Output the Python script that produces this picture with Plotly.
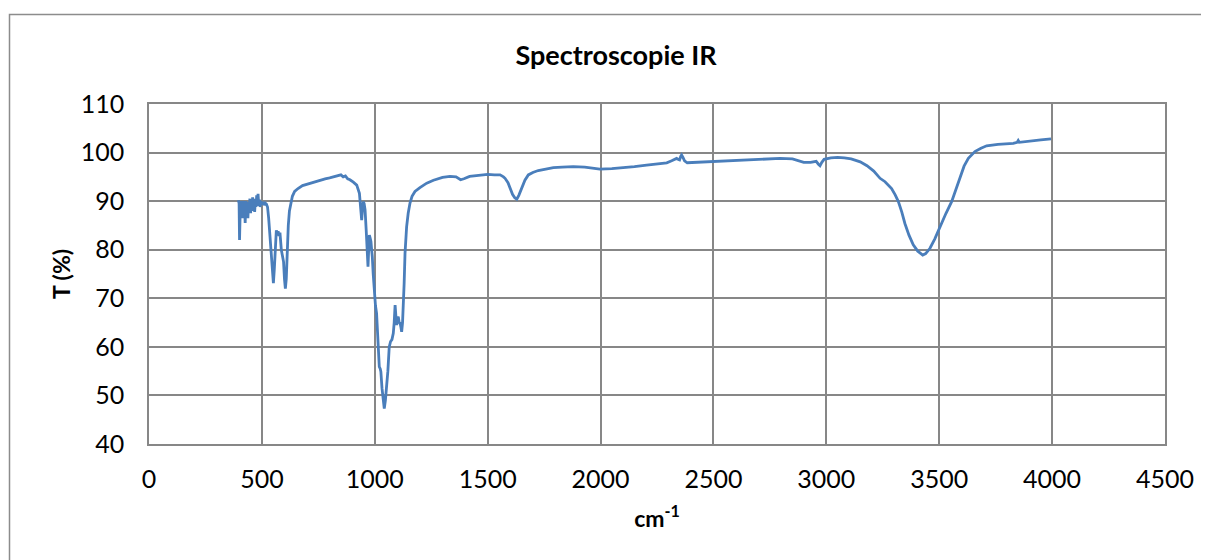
import plotly.graph_objects as go

wavenumber = [396, 399, 401, 403, 405, 408, 411, 414, 417, 420, 423, 426, 429, 432, 435, 438, 441, 444, 447, 450,
              453, 456, 459, 462, 465, 468, 471, 474, 477, 480, 483, 486, 489, 492, 495, 500, 505, 510, 515, 520,
              525, 530, 536, 542, 548, 551, 555, 560, 564, 568, 572, 576, 580, 586, 592, 596, 600, 604, 608, 612,
              617, 622, 628, 635, 645, 660, 680, 700, 720, 740, 760, 780, 800, 820, 840, 850, 860, 870, 880, 890,
              905, 920, 932, 938, 942, 945, 949, 953, 957, 962, 966, 970, 973, 976, 979, 983, 986, 989, 993, 998,
              1003, 1008, 1013, 1017, 1020, 1024, 1027, 1032, 1037, 1042, 1047, 1053, 1058, 1064, 1067, 1070, 1076, 1082, 1086, 1090,
              1094, 1097, 1101, 1104, 1108, 1112, 1116, 1119, 1123, 1126, 1130, 1134, 1137, 1141, 1148, 1156, 1165, 1178, 1200, 1230,
              1260, 1300, 1333, 1360, 1380, 1395, 1420, 1450, 1480, 1500, 1530, 1555, 1570, 1577, 1590, 1599, 1610, 1620, 1629, 1638,
              1651, 1665, 1680, 1700, 1724, 1760, 1791, 1830, 1879, 1930, 1997, 2050, 2086, 2150, 2204, 2250, 2293, 2315, 2337, 2345,
              2350, 2355, 2359, 2365, 2372, 2384, 2430, 2499, 2570, 2647, 2720, 2795, 2850, 2880, 2900, 2930, 2955, 2965, 2972, 2980,
              2990, 3020, 3050, 3080, 3110, 3150, 3180, 3210, 3238, 3260, 3289, 3305, 3319, 3334, 3348, 3366, 3385, 3405, 3427, 3440,
              3459, 3480, 3503, 3530, 3555, 3575, 3592, 3610, 3629, 3645, 3658, 3685, 3710, 3760, 3800, 3828, 3845, 3850, 3855, 3900,
              3950, 3995]

transmittance = [90.2, 89.5, 82.0, 86.0, 90.0, 88.0, 89.8, 86.5, 90.0, 88.0, 89.5, 85.5, 90.0, 87.0, 89.0, 86.5, 89.8, 88.5, 90.5, 87.5,
                 90.0, 88.0, 90.8, 89.0, 90.5, 87.8, 90.2, 88.8, 91.2, 89.0, 91.5, 89.2, 90.3, 88.8, 90.0, 89.3, 89.8, 89.2, 89.6, 89.4,
                 88.8, 86.5, 82.7, 77.0, 74.5, 73.1, 76.0, 81.0, 84.0, 83.2, 83.8, 82.8, 83.5, 80.0, 78.2, 77.5, 74.0, 72.0, 74.0, 80.0,
                 85.0, 88.0, 89.8, 91.0, 92.0, 92.6, 93.2, 93.5, 93.8, 94.0, 94.3, 94.6, 94.8, 95.0, 95.3, 95.4, 95.0, 95.2, 94.6, 94.4,
                 93.9, 93.3, 91.6, 89.0, 86.1, 88.0, 89.9, 89.5, 88.2, 84.0, 80.0, 76.5, 80.0, 83.0, 82.5, 81.7, 80.0, 78.6, 75.0, 71.0,
                 68.5, 66.9, 62.0, 58.0, 55.9, 55.5, 54.9, 51.5, 48.5, 47.3, 49.0, 51.8, 55.0, 60.0, 60.8, 61.1, 61.5, 62.8, 65.0, 68.6,
                 66.0, 64.5, 66.0, 66.2, 65.0, 64.9, 64.0, 63.1, 65.0, 67.6, 73.0, 79.3, 82.0, 84.7, 87.5, 89.6, 91.0, 92.0, 92.8, 93.7,
                 94.3, 94.9, 95.1, 95.0, 94.4, 94.6, 95.1, 95.3, 95.4, 95.5, 95.4, 95.4, 95.0, 94.7, 93.8, 92.6, 91.4, 90.7, 90.4, 91.2,
                 92.6, 94.3, 95.4, 95.9, 96.3, 96.7, 96.9, 97.0, 97.1, 97.0, 96.6, 96.7, 96.8, 97.1, 97.4, 97.7, 97.9, 98.3, 98.8, 98.6,
                 98.5, 99.2, 99.5, 99.0, 98.3, 97.9, 98.0, 98.1, 98.3, 98.5, 98.6, 98.8, 98.7, 98.3, 98.0, 98.0, 98.2, 97.6, 97.3, 98.0,
                 98.6, 98.9, 99.0, 98.9, 98.7, 98.1, 97.3, 96.2, 94.7, 94.0, 92.6, 91.3, 89.9, 87.8, 85.4, 83.0, 81.0, 79.7, 78.9, 79.2,
                 80.3, 82.2, 84.7, 87.5, 89.9, 92.5, 95.0, 97.2, 98.8, 99.7, 100.2, 100.9, 101.4, 101.7, 101.8, 101.9, 102.1, 102.5, 102.1, 102.4,
                 102.6, 102.8]

x_ticks = [0, 500, 1000, 1500, 2000, 2500, 3000, 3500, 4000, 4500]
y_ticks = [40, 50, 60, 70, 80, 90, 100, 110]

FONT = "Lato"
GRID = "#878787"

fig = go.Figure()
fig.add_trace(go.Scatter(x=wavenumber, y=transmittance, mode="lines",
                         line=dict(color="#4A7EBB", width=2.8), showlegend=False,
                         hoverinfo="x+y"))

# page body has an 8px margin: figure is 1201x552 placed at (8, 8)
fig.update_layout(
    width=1201, height=552,
    margin=dict(l=141, r=44, t=96, b=116),
    paper_bgcolor="white", plot_bgcolor="white",
    font=dict(family=FONT, color="black", size=25),
    title=dict(text="<b>Spectroscopie IR</b>", x=(616 - 8) / 1201, xanchor="center",
               y=1 - 48 / 552, yanchor="middle", font=dict(family=FONT, size=27, color="black")),
    xaxis=dict(range=[0, 4500], tickvals=x_ticks, ticktext=[str(v) for v in x_ticks],
               showgrid=True, gridcolor=GRID, gridwidth=1.5,
               showline=True, linecolor=GRID, linewidth=1.5, mirror=True,
               ticks="", zeroline=False, ticklabelstandoff=12,
               title=dict(text="<b>cm<sup>-1</sup></b>", standoff=19, font=dict(size=23))),
    yaxis=dict(range=[40, 110], tickvals=y_ticks, ticktext=[str(v) for v in y_ticks],
               showgrid=True, gridcolor=GRID, gridwidth=1.5,
               showline=True, linecolor=GRID, linewidth=1.5, mirror=True,
               ticks="", zeroline=False, ticklabelstandoff=18,
               title=dict(text="<b>T (%)</b>", standoff=4, font=dict(size=23))),
)

# outer chart frame
fig.add_shape(type="rect", xref="paper", yref="paper",
              x0=(9.5 - 149) / 1016, x1=(1230 - 149) / 1016,
              y0=(444 - 600) / 340, y1=1 + (104 - 14.5) / 340,
              line=dict(color="#8c8c8c", width=1.5), fillcolor="rgba(0,0,0,0)", layer="below")

fig.write_html("out.html")
